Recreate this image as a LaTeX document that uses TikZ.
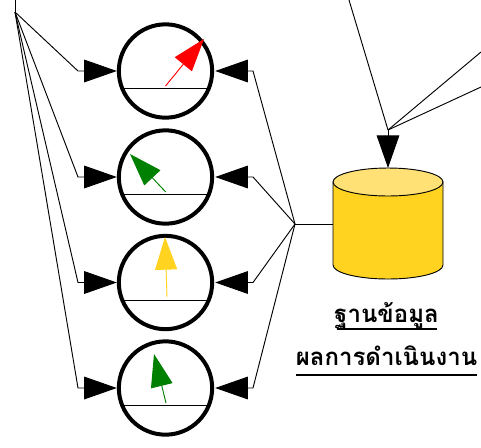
\documentclass[tikz,border=0pt]{standalone}
\usepackage{fontspec}
\newfontfamily\thaifont[Script=Thai]{Loma}
\usetikzlibrary{arrows.meta,calc}
\definecolor{dbyellow}{HTML}{FFD320}
\definecolor{dbtop}{HTML}{FFE176}
\definecolor{needlegreen}{HTML}{008000}
\tikzset{
    gauge/.style={circle, draw, line width=3pt, minimum size=70pt, inner sep=0pt},
    wire/.style={line width=0.7pt},
    bigtip/.style={-{Triangle[length=24.5pt,width=17pt]}, line width=0.7pt},
    needle/.style={-{Triangle[length=24.5pt,width=16.5pt]}, line width=0.7pt},
    caption/.style={font=\thaifont\bfseries\fontsize{18}{20}\selectfont, inner sep=0pt, text depth=0pt}
}
\begin{document}
\begin{tikzpicture}[x=0.75pt,y=-0.75pt]
    \useasboundingbox (0,0) rectangle (481,447);

    % --- junctions ---
    \coordinate (left) at (15,12); \coordinate (right) at (295,224); \coordinate (feed) at (388,130);
    \coordinate (topin) at (15,0); \coordinate (feedA) at (349,0);
    \coordinate (feedB) at (481,52); \coordinate (feedC) at (481,87);

    % --- gauges with their needles ---
    \foreach \i/\cy/\col/\tx/\ty/\sx/\sy in {1/71/red/204/39/165.5/86, 2/177/needlegreen/130/154/165.7/192,
        3/282.5/dbyellow/165/237/167/297, 4/388/needlegreen/154/354/166/403} {
        \node[gauge] (g\i) at (165.5,\cy) {};
        \coordinate (in\i) at (78,\cy); \coordinate (out\i) at (253,\cy);
        \draw[wire] ($(g\i.center)+(-42.5,17.5)$) -- ($(g\i.center)+(42.5,17.5)$);
        \coordinate (tip\i) at (\tx,\ty); \coordinate (foot\i) at (\sx,\sy);
        \draw[needle, \col] (foot\i) -- (tip\i);
        \draw[bigtip] (left) -- (in\i) -- (g\i.west);
        \draw[bigtip, shorten >=0.8pt] (right) -- (out\i) -- (g\i.east);
    }
    \draw[wire] (topin) -- (left);

    % --- data store ---
    \coordinate (dbL) at (333,182); \coordinate (dbR) at (443,182);
    \coordinate (dbW) at (333,224); \coordinate (dbN) at (388,168); \coordinate (dbC) at (388,182);
    \filldraw[wire, fill=dbyellow] (dbL) -- (333,265) arc[start angle=180, end angle=0, x radius=55, y radius=14] -- (dbR) -- cycle;
    \filldraw[wire, fill=dbtop] (dbC) ellipse [x radius=55, y radius=14];
    \draw[wire] (right) -- (dbW);
    \draw[bigtip] (feed) -- (dbN);
    \draw[wire] (feedA) -- (feed); \draw[wire] (feedB) -- (feed); \draw[wire] (feedC) -- (feed);

    % --- caption ---
    \node[caption, anchor=base] (capA) at (386.5,322) {ฐานข้อมูล};
    \node[caption, anchor=base] (capB) at (386.5,365) {ผลการดำเนินงาน};
    \coordinate (ulA) at (336.5,329); \coordinate (urA) at (437,329);
    \coordinate (ulB) at (296,375); \coordinate (urB) at (477,375);
    \draw[line width=2.2pt] (ulA) -- (urA);
    \draw[line width=2.2pt] (ulB) -- (urB);
\end{tikzpicture}
\end{document}
